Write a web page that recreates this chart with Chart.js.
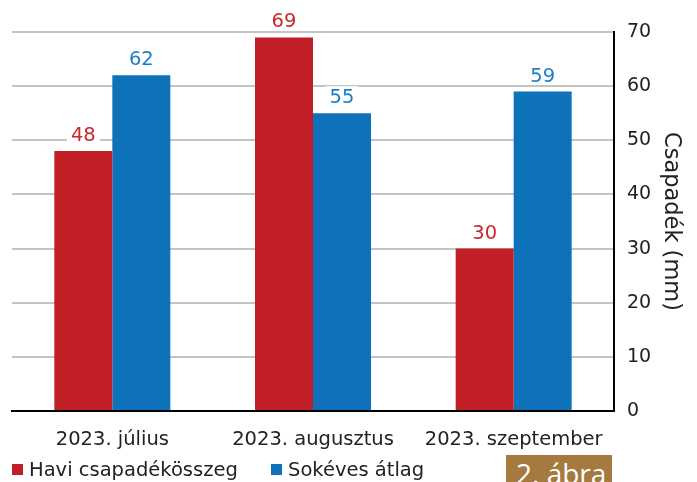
<!DOCTYPE html>
<html>
<head>
<meta charset="utf-8">
<script src="https://cdn.jsdelivr.net/npm/chart.js@4"></script>
<style>
  body { margin: 0; background: #fff; }
  #wrap { position: relative; width: 697px; height: 482px; }
  #abra {
    position: absolute; left: 506px; top: 455px; width: 106px; height: 27px;
    background: #a47a3e; color: #fff; font-family: "Open Sans", sans-serif;
    font-size: 28px; line-height: 28px; overflow: hidden;
  }
  #abra span { position: absolute; left: 10px; top: 4px; white-space: nowrap; }
</style>
</head>
<body>
<div id="wrap">
  <canvas id="graph" width="697" height="482"></canvas>
  <div id="abra"><span>2. ábra</span></div>
</div>
<script>
var honapok = ['2023. július', '2023. augusztus', '2023. szeptember'];
var havi = [48, 69, 30];
var atlag = [62, 55, 59];
var yTicks = [0, 10, 20, 30, 40, 50, 60, 70];

var piros = '#c01f26';
var kek = '#0e72bb';
var pismo = 'DejaVu Sans';

// cisla nad stlpcami, s bielym pozadim cez mriezku
var cislaPlugin = {
    id: 'cisla',
    afterDatasetsDraw: function(chart) {
        var ctx = chart.ctx;
        ctx.save();
        ctx.font = '19.5px "' + pismo + '"';
        ctx.textAlign = 'center';
        ctx.textBaseline = 'alphabetic';
        chart.data.datasets.forEach(function(ds, i) {
            var meta = chart.getDatasetMeta(i);
            meta.data.forEach(function(bar, j) {
                var txt = String(ds.data[j]);
                var w = ctx.measureText(txt).width;
                var y = bar.y - 10;
                ctx.fillStyle = '#fff';
                ctx.fillRect(bar.x - w / 2 - 4, y - 17, w + 8, 20);
                ctx.fillStyle = ds.labelColor;
                ctx.fillText(txt, bar.x, y);
            });
        });
        ctx.restore();
    }
};

// legenda dole vlavo
var legendaPlugin = {
    id: 'legenda',
    afterDraw: function(chart) {
        var ctx = chart.ctx;
        var xs = [12, 271];
        ctx.save();
        ctx.font = '19.5px "' + pismo + '"';
        ctx.textBaseline = 'alphabetic';
        chart.data.datasets.forEach(function(ds, i) {
            ctx.fillStyle = ds.backgroundColor;
            ctx.fillRect(xs[i], 464, 11, 11);
            ctx.fillStyle = '#222';
            ctx.fillText(ds.label, xs[i] + 17, 476);
        });
        ctx.restore();
    }
};

var myChart = document.getElementById('graph').getContext('2d');

var barChart = new Chart(myChart, {
    type: 'bar',
    data: {
        labels: honapok,
        datasets: [{
            label: 'Havi csapadékösszeg',
            data: havi,
            backgroundColor: piros,
            labelColor: '#c8282e',
        }, {
            label: 'Sokéves átlag',
            data: atlag,
            backgroundColor: kek,
            labelColor: '#1a7fc8',
        }],
    },
    options: {
        responsive: false,
        animation: false,
        devicePixelRatio: 1,
        layout: { padding: { top: 32, left: 12, right: 0, bottom: 0 } },
        datasets: { bar: { categoryPercentage: 0.578, barPercentage: 1 } },
        plugins: {
            tooltip: { enabled: false },
            legend: { display: false },
        },
        scales: {
            x: {
                afterFit: function(s) { s.height = 71; },
                grid: { display: false },
                border: { display: true, color: '#000', width: 2 },
                ticks: { color: '#222', font: { family: pismo, size: 19.5 }, padding: 9, maxRotation: 0 },
            },
            y: {
                position: 'right',
                min: 0,
                max: 70,
                afterFit: function(s) { s.width = 83; },
                afterBuildTicks: function(s) { s.ticks = yTicks.map(function(v) { return { value: v }; }); },
                grid: { color: '#c4c4c4', lineWidth: 2, drawTicks: false },
                border: { display: true, color: '#000', width: 2 },
                ticks: { color: '#222', font: { family: pismo, size: 19 }, padding: 13 },
                title: {
                    display: true,
                    text: 'Csapadék (mm)',
                    color: '#222',
                    font: { family: pismo, size: 22.5 },
                    padding: { top: 13, bottom: 0 },
                },
            },
        },
    },
    plugins: [cislaPlugin, legendaPlugin],
});
</script>
</body>
</html>
